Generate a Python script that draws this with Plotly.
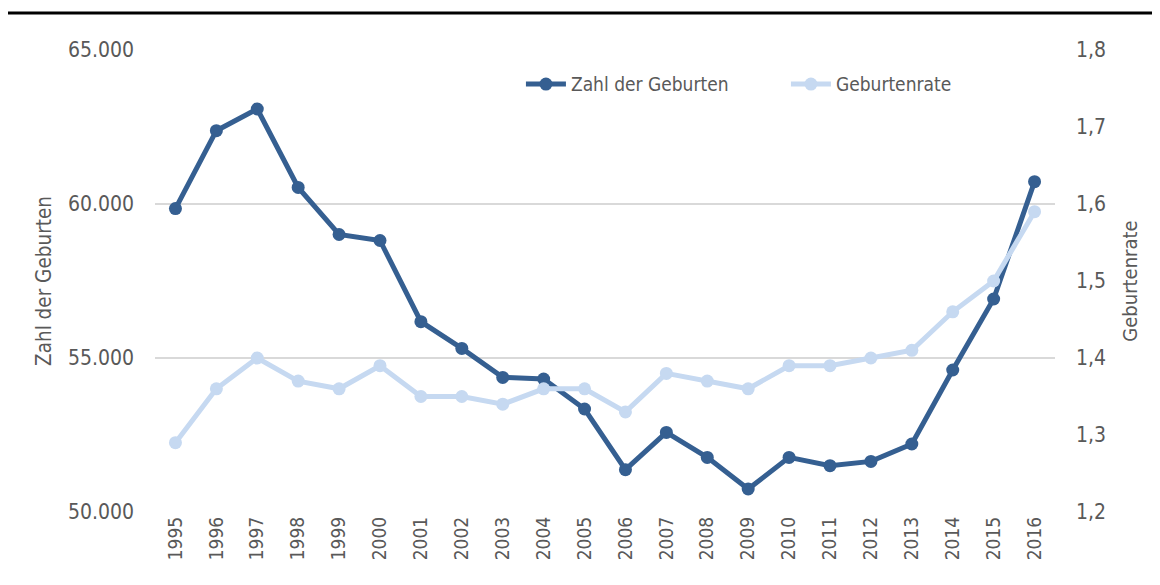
import plotly.graph_objects as go

years = [str(y) for y in range(1995, 2017)]
geburten = [59852, 62381, 63085, 60537, 59010, 58815, 56179, 55312, 54370, 54318,
            53344, 51373, 52585, 51773, 50746, 51773, 51503, 51643, 52208, 54610,
            56916, 60725]
rate = [1.29, 1.36, 1.40, 1.37, 1.36, 1.39, 1.35, 1.35, 1.34, 1.36, 1.36,
        1.33, 1.38, 1.37, 1.36, 1.39, 1.39, 1.40, 1.41, 1.46, 1.50, 1.59]

left_ticks = [50000, 55000, 60000, 65000]
left_labels = ["50.000", "55.000", "60.000", "65.000"]
right_ticks = [1.2, 1.3, 1.4, 1.5, 1.6, 1.7, 1.8]
right_labels = ["1,2", "1,3", "1,4", "1,5", "1,6", "1,7", "1,8"]

DARK = "#355F91"
LIGHT = "#C6D9F1"
GREY = "#595959"
FONT = "Liberation Sans Narrow, Arial Narrow, DejaVu Sans Condensed, sans-serif"

fig = go.Figure()
fig.add_trace(go.Scatter(
    x=years, y=rate, name="Geburtenrate", mode="lines+markers",
    line=dict(color=LIGHT, width=5), marker=dict(color=LIGHT, size=13),
    yaxis="y2", legendrank=2))
fig.add_trace(go.Scatter(
    x=years, y=geburten, name="Zahl der Geburten", mode="lines+markers",
    line=dict(color=DARK, width=5), marker=dict(color=DARK, size=13),
    yaxis="y", legendrank=1))

fig.update_layout(
    width=1152, height=577,
    margin=dict(l=147, r=105, t=42, b=73, autoexpand=False),
    paper_bgcolor="white", plot_bgcolor="white",
    font=dict(family=FONT, color=GREY, size=19),
    showlegend=True,
    legend=dict(orientation="h", x=0.4066, y=0.926, xanchor="left", yanchor="middle",
                font=dict(size=19, color=GREY),
                entrywidth=210, entrywidthmode="pixels",
                itemwidth=40, bgcolor="rgba(0,0,0,0)"),
    xaxis=dict(type="category", range=[-0.5, 21.5], tickangle=-90,
               showgrid=False, showline=False, ticks="", zeroline=False,
               tickfont=dict(size=19, color=GREY)),
    yaxis=dict(range=[50000, 65000], tickvals=left_ticks, ticktext=left_labels,
               showgrid=True, gridcolor="#D9D9D9", gridwidth=1.5,
               zeroline=False, showline=False, ticks="",
               tickfont=dict(size=21, color=GREY), ticklabelstandoff=20,
               title=dict(text="Zahl der Geburten", font=dict(size=20.5, color=GREY),
                          standoff=10)),
    yaxis2=dict(range=[1.2, 1.8], tickvals=right_ticks, ticktext=right_labels,
                overlaying="y", side="right", showgrid=False, zeroline=False,
                showline=False, ticks="", tickfont=dict(size=21, color=GREY),
                ticklabelstandoff=20,
                title=dict(text="Geburtenrate", font=dict(size=20, color=GREY),
                           standoff=17)),
    shapes=[dict(type="line", xref="paper", yref="paper",
                 x0=-147/900, x1=1005/900, y0=1 + 37/462, y1=1 + 37/462,
                 line=dict(color="black", width=3))],
)

fig.write_html("out.html")
